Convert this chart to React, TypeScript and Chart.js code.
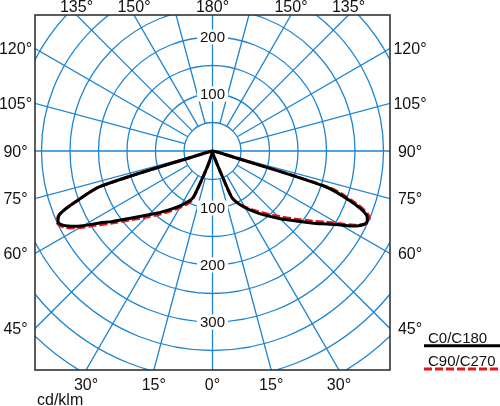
import React, { useEffect, useRef } from "react";
import { Chart, registerables } from "chart.js";

Chart.register(...registerables);

// ---- data (cd/klm), gamma angles measured from nadir ----
const gammaAngles = [0, 5, 10, 15, 17.5, 20, 22.5, 25, 30, 35, 40, 45, 50, 55, 57.5, 60, 62.5, 65, 67.5, 70, 72.5, 75, 77.5, 80, 85, 90];
const c0 = [3, 4, 5, 8, 14, 30, 88, 99, 115, 131, 148, 168, 191, 222, 238, 260, 285, 298, 292, 258, 207, 20, 8, 4, 2, 0];
const c180 = [3, 4, 5, 12, 25, 45, 88, 97, 110, 124, 140, 158, 182, 216, 235, 262, 285, 298, 290, 250, 205, 15, 6, 4, 2, 0];
const c90 = [3, 4, 5, 8, 14, 35, 86, 98, 113, 127, 143, 162, 185, 215, 232, 254, 282, 299, 297, 266, 217, 25, 8, 4, 2, 0];
const c270 = [3, 4, 5, 13, 28, 50, 92, 101, 114, 128, 145, 164, 188, 222, 242, 268, 290, 300, 291, 250, 205, 15, 6, 4, 2, 0];
const seriesNames = ["C0/C180", "C90/C270"];
const seriesColors = ["#000000", "#e4161c"];

const ringValues = [50, 100, 150, 200, 250, 300, 350, 400, 450, 500];
const radialTickLabels = [100, 200, 300];
const angleTickLabels = [0, 15, 30, 45, 60, 75, 90, 105, 120, 135, 150, 180];
const unitLabel = "cd/klm";

const X_MIN = -311.4;
const X_MAX = 311.4;
const Y_MIN = -384.2;
const Y_MAX = 238.6;

const GRID_COLOR = "#1e84d2";
const FONT = '"Liberation Sans", Arial, sans-serif';

function toCurve(leftVals: number[], rightVals: number[]) {
  const pts: { x: number; y: number }[] = [];
  for (let i = gammaAngles.length - 1; i >= 0; i--) {
    const g = (gammaAngles[i] * Math.PI) / 180;
    pts.push({ x: -leftVals[i] * Math.sin(g), y: -leftVals[i] * Math.cos(g) });
  }
  for (let i = 0; i < gammaAngles.length; i++) {
    const g = (gammaAngles[i] * Math.PI) / 180;
    pts.push({ x: rightVals[i] * Math.sin(g), y: -rightVals[i] * Math.cos(g) });
  }
  return pts;
}

const polarPlugin = {
  id: "polarGrid",
  beforeDatasetsDraw(chart: any) {
    const { ctx, chartArea: a, scales } = chart;
    const xs = scales.x;
    const ys = scales.y;
    const cx = xs.getPixelForValue(0);
    const cy = ys.getPixelForValue(0);
    ctx.save();
    ctx.beginPath();
    ctx.rect(a.left, a.top, a.right - a.left, a.bottom - a.top);
    ctx.clip();
    ctx.strokeStyle = GRID_COLOR;
    ctx.lineWidth = 1.3;
    for (const r of ringValues) {
      const rp = xs.getPixelForValue(r) - cx;
      ctx.beginPath();
      ctx.arc(cx, cy, rp, 0, Math.PI * 2);
      ctx.stroke();
    }
    const rInner = xs.getPixelForValue(ringValues[0]) - cx;
    for (let ang = 0; ang < 360; ang += 15) {
      const rad = (ang * Math.PI) / 180;
      const dx = Math.sin(rad);
      const dy = Math.cos(rad);
      const start = ang % 90 === 0 ? 0 : rInner;
      ctx.beginPath();
      ctx.moveTo(cx + dx * start, cy + dy * start);
      ctx.lineTo(cx + dx * 2000, cy + dy * 2000);
      ctx.stroke();
    }
    // radial value labels along the vertical axis
    ctx.font = `15px ${FONT}`;
    ctx.textAlign = "center";
    ctx.textBaseline = "alphabetic";
    for (const v of radialTickLabels) {
      for (const dir of [1, -1]) {
        const py = ys.getPixelForValue(dir * v);
        if (py < a.top + 8 || py > a.bottom - 8) continue;
        const txt = String(v);
        const w = ctx.measureText(txt).width;
        ctx.fillStyle = "#ffffff";
        ctx.fillRect(cx - w / 2 - 3, py - 7.5, w + 6, 15);
        ctx.fillStyle = "#111111";
        ctx.fillText(txt, cx, py + 5.4);
      }
    }
    ctx.restore();
  },
  afterDraw(chart: any) {
    const { ctx, chartArea: a, scales, width } = chart;
    const xs = scales.x;
    const ys = scales.y;
    const cx = xs.getPixelForValue(0);
    const cy = ys.getPixelForValue(0);
    ctx.save();
    // frame
    ctx.strokeStyle = "#333333";
    ctx.lineWidth = 1.6;
    ctx.strokeRect(a.left, a.top, a.right - a.left, a.bottom - a.top);

    // angle labels
    ctx.font = `16px ${FONT}`;
    ctx.fillStyle = "#111111";
    ctx.textAlign = "center";
    ctx.textBaseline = "alphabetic";
    for (const ang of angleTickLabels) {
      const sides = ang === 0 || ang === 180 ? [1] : [-1, 1];
      for (const side of sides) {
        const rad = (ang * Math.PI) / 180;
        const dx = side * Math.sin(rad);
        const dy = Math.cos(rad);
        const tx = dx > 1e-9 ? (a.right - cx) / dx : dx < -1e-9 ? (a.left - cx) / dx : Infinity;
        const ty = dy > 1e-9 ? (a.bottom - cy) / dy : dy < -1e-9 ? (a.top - cy) / dy : Infinity;
        const txt = `${ang}°`;
        if (tx < ty) {
          const ey = cy + dy * tx;
          const lx = dx > 0 ? a.right + 20 : a.left - 19.5;
          ctx.fillText(txt, lx, ey + 5.7);
        } else {
          const ex = cx + dx * ty;
          const by = dy > 0 ? a.bottom + 20 : a.top - 3;
          ctx.fillText(txt, ex, by);
        }
      }
    }

    // unit
    ctx.textAlign = "left";
    ctx.fillText(unitLabel, a.left + 2, a.bottom + 34.5);

    // legend
    ctx.font = `15px ${FONT}`;
    chart.data.datasets.forEach((ds: any, i: number) => {
      const base = a.bottom - 27 + i * 23.4;
      ctx.fillStyle = "#111111";
      ctx.fillText(ds.label, a.right + 38, base);
      ctx.strokeStyle = ds.borderColor;
      ctx.lineWidth = 3;
      ctx.setLineDash(ds.borderDash || []);
      ctx.beginPath();
      ctx.moveTo(a.right + 34, base + 2.7);
      ctx.lineTo(width, base + 2.7);
      ctx.stroke();
      ctx.setLineDash([]);
    });
    ctx.restore();
  },
};

export default function App() {
  const ref = useRef<HTMLCanvasElement | null>(null);
  useEffect(() => {
    if (!ref.current) return;
    const chart = new Chart(ref.current, {
      type: "scatter",
      data: {
        datasets: [
          {
            label: seriesNames[0],
            data: toCurve(c180, c0),
            showLine: true,
            borderColor: seriesColors[0],
            borderWidth: 3,
            pointRadius: 0,
            fill: false,
            tension: 0.3,
            borderJoinStyle: "round",
          } as any,
          {
            label: seriesNames[1],
            data: toCurve(c270, c90),
            showLine: true,
            borderColor: seriesColors[1],
            borderWidth: 3,
            borderDash: [8, 3],
            pointRadius: 0,
            fill: false,
            tension: 0.3,
            borderJoinStyle: "round",
          } as any,
        ],
      },
      options: {
        animation: false,
        responsive: false,
        events: [],
        layout: { padding: { left: 35, top: 15, right: 110, bottom: 36 } },
        scales: {
          x: { type: "linear", min: X_MIN, max: X_MAX, display: false },
          y: { type: "linear", min: Y_MIN, max: Y_MAX, display: false },
        },
        plugins: { legend: { display: false }, tooltip: { enabled: false } },
      },
      plugins: [polarPlugin],
    });
    return () => chart.destroy();
  }, []);
  return (
    <div style={{ position: "absolute", left: 0, top: 0, width: 500, height: 406, background: "#fff" }}>
      <canvas ref={ref} width={500} height={406} style={{ display: "block" }} />
    </div>
  );
}
